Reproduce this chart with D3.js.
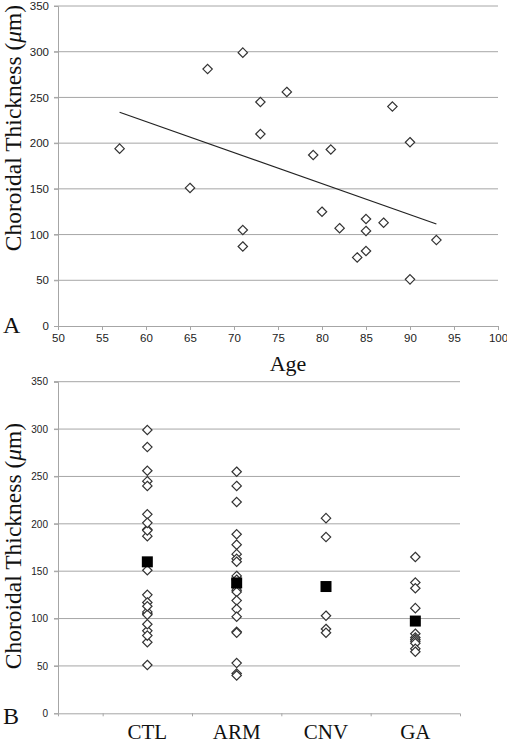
<!DOCTYPE html>
<html><head><meta charset="utf-8">
<script src="https://cdn.jsdelivr.net/npm/d3@7"></script>
<style>body{margin:0;background:#fff}svg{display:block}</style>
</head><body>
<svg id="c" width="507" height="745"></svg>
<script>
// Panel A: age vs choroidal thickness (controls)
const ageA   = [57, 65, 67, 71, 71, 71, 73, 73, 76, 79, 80, 81, 82, 84, 85, 85, 85, 87, 88, 90, 90, 93];
const thickA = [194, 151, 281, 299, 105, 87, 245, 210, 256, 187, 125, 193, 107, 75, 117, 104, 82, 113, 240, 201, 51, 94];
const xTicksA = [50, 55, 60, 65, 70, 75, 80, 85, 90, 95, 100];
const yTicks = [0, 50, 100, 150, 200, 250, 300, 350];
// Panel B: groups
const categories = ["CTL", "ARM", "CNV", "GA"];
const ctlVals = thickA;
const armVals = [255, 240, 223, 189, 178, 168, 163, 160, 145, 141, 133, 130, 128, 119, 110, 102, 86, 85, 53, 42, 40];
const cnvVals = [206, 186, 103, 89, 85];
const gaVals  = [165, 138, 132, 111, 84, 80, 78, 76, 74, 68, 65];
const groupVals = [ctlVals, armVals, cnvVals, gaVals];

const svg = d3.select("#c");
const gridColor = "#a6a6a6";
const serif = "'Liberation Serif','DejaVu Serif',serif";
const sans = "'Liberation Sans',Arial,sans-serif";
const diamond = d3.symbol().type(d3.symbolDiamond2 || d3.symbolDiamond).size(56);

// ---------- Panel A ----------
const xA = d3.scaleLinear().domain([50, 100]).range([58, 498]);
const yA = d3.scaleLinear().domain([0, 350]).range([326, 6]);
const gA = svg.append("g");
gA.append("g").selectAll("line").data(yTicks.filter(d => d > 0)).join("line")
  .attr("x1", xA(50) - 4).attr("x2", xA(100)).attr("y1", d => yA(d)).attr("y2", d => yA(d))
  .attr("stroke", gridColor).attr("stroke-width", 1);
const axA_y = gA.append("g").attr("transform", `translate(${xA(50)},0)`)
  .call(d3.axisLeft(yA).tickValues(yTicks).tickSize(4).tickPadding(5));
const axA_x = gA.append("g").attr("transform", `translate(0,${yA(0)})`)
  .call(d3.axisBottom(xA).tickValues(xTicksA).tickSize(4).tickPadding(4));
[axA_y, axA_x].forEach(ax => {
  ax.select(".domain").attr("stroke", gridColor);
  ax.selectAll(".tick line").attr("stroke", gridColor);
  ax.selectAll("text").attr("font-family", sans).attr("font-size", 11.5).attr("fill", "#222");
});
// regression line
const meanX = d3.mean(ageA), meanY = d3.mean(thickA);
let sxy = 0, sxx = 0;
ageA.forEach((a, i) => { sxy += (a - meanX) * (thickA[i] - meanY); sxx += (a - meanX) ** 2; });
const slope = sxy / sxx, icpt = meanY - slope * meanX;
const [amin, amax] = d3.extent(ageA);
gA.append("line")
  .attr("x1", xA(amin)).attr("y1", yA(icpt + slope * amin))
  .attr("x2", xA(amax)).attr("y2", yA(icpt + slope * amax))
  .attr("stroke", "#222").attr("stroke-width", 1.2);
gA.append("g").selectAll("path").data(ageA).join("path")
  .attr("d", diamond)
  .attr("transform", (d, i) => `translate(${xA(d)},${yA(thickA[i])})`)
  .attr("fill", "#fff").attr("stroke", "#333").attr("stroke-width", 1.2);
gA.append("text").attr("x", 288).attr("y", 371).attr("text-anchor", "middle")
  .attr("font-family", serif).attr("font-size", 22).attr("fill", "#111").text("Age");
gA.append("text").attr("x", 3).attr("y", 333)
  .attr("font-family", serif).attr("font-size", 24).attr("fill", "#111").text("A");
function yLabel(g, cy) {
  const t = g.append("text").attr("transform", `translate(21,${cy}) rotate(-90)`)
    .attr("text-anchor", "middle").attr("font-family", serif).attr("font-size", 23.5).attr("fill", "#111");
  t.append("tspan").text("Choroidal Thickness (");
  t.append("tspan").attr("font-style", "italic").text("\u03bc");
  t.append("tspan").text("m)");
}
yLabel(gA, 128);

// ---------- Panel B ----------
const xB = d3.scaleLinear().domain([0, 4.5]).range([58, 460]);
const yB = d3.scaleLinear().domain([0, 350]).range([713.3, 381.7]);
const gB = svg.append("g");
gB.append("g").selectAll("line").data(yTicks.filter(d => d > 0)).join("line")
  .attr("x1", xB(0) - 4).attr("x2", xB(4.5)).attr("y1", d => yB(d)).attr("y2", d => yB(d))
  .attr("stroke", gridColor).attr("stroke-width", 1);
const axB_y = gB.append("g").attr("transform", `translate(${xB(0)},0)`)
  .call(d3.axisLeft(yB).tickValues(yTicks).tickSize(4).tickPadding(6));
const axB_x = gB.append("g").attr("transform", `translate(0,${yB(0)})`)
  .call(d3.axisBottom(xB).tickValues([0.5, 1.5, 2.5, 3.5]).tickSize(3).tickFormat(""));
[axB_y, axB_x].forEach(ax => {
  ax.select(".domain").attr("stroke", gridColor);
  ax.selectAll(".tick line").attr("stroke", gridColor);
  ax.selectAll("text").attr("font-family", sans).attr("font-size", 10).attr("fill", "#222");
});
categories.forEach((c, i) => {
  const vals = groupVals[i];
  gB.append("g").selectAll("path").data(vals).join("path")
    .attr("d", diamond)
    .attr("transform", d => `translate(${xB(i + 1)},${yB(d)})`)
    .attr("fill", "#fff").attr("stroke", "#333").attr("stroke-width", 1.2);
  gB.append("path")
    .attr("d", d3.symbol().type(d3.symbolSquare).size(121))
    .attr("transform", `translate(${xB(i + 1)},${yB(d3.mean(vals))})`)
    .attr("fill", "#000");
  gB.append("text").attr("x", xB(i + 1)).attr("y", 739).attr("text-anchor", "middle")
    .attr("font-family", serif).attr("font-size", 21).attr("fill", "#111").text(c);
});
gB.append("text").attr("x", 3).attr("y", 724)
  .attr("font-family", serif).attr("font-size", 24).attr("fill", "#111").text("B");
yLabel(gB, 546);
</script>
</body></html>
